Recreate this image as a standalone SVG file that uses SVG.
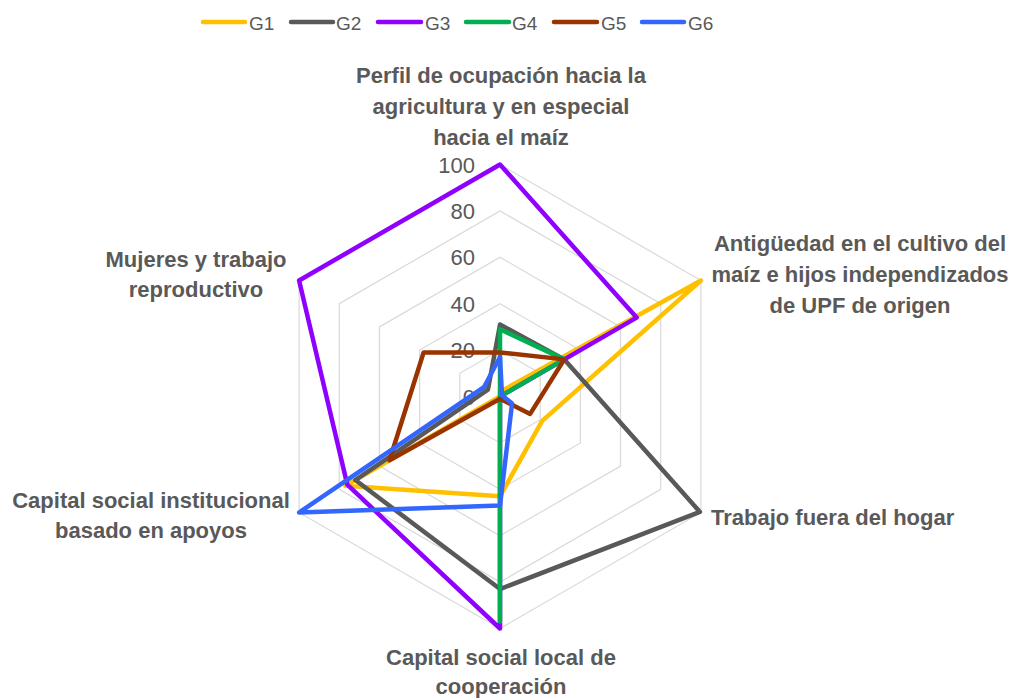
<svg xmlns="http://www.w3.org/2000/svg" width="1013" height="698" viewBox="0 0 1013 698">
<style>
.grid{fill:none;stroke:#D9D9D9;stroke-width:1.2}
.s{fill:none;stroke-width:4.5;stroke-linejoin:round;stroke-linecap:round}
.lg{stroke-width:4.5;stroke-linecap:round}
.tick{font-family:"Liberation Sans",Arial,sans-serif;font-size:22px;fill:#595959;text-anchor:end}
.leg{font-family:"Liberation Sans",Arial,sans-serif;font-size:19px;fill:#595959}
.lab{font-family:"Liberation Sans",Arial,sans-serif;font-size:22px;font-weight:bold;fill:#595959}
.c{text-anchor:middle}
</style>
<rect width="1013" height="698" fill="#FFFFFF"/>
<g id="grid">
<polygon class="grid" points="500,350.1 540.18,373.3 540.18,419.7 500,442.9 459.82,419.7 459.82,373.3"/>
<polygon class="grid" points="500,303.7 580.37,350.1 580.37,442.9 500,489.3 419.63,442.9 419.63,350.1"/>
<polygon class="grid" points="500,257.3 620.55,326.9 620.55,466.1 500,535.7 379.45,466.1 379.45,326.9"/>
<polygon class="grid" points="500,210.9 660.73,303.7 660.73,489.3 500,582.1 339.27,489.3 339.27,303.7"/>
<polygon class="grid" points="500,164.5 700.92,280.5 700.92,512.5 500,628.5 299.08,512.5 299.08,280.5"/>
</g>
<g id="ticks">
<text class="tick" x="475" y="404.5">0</text>
<text class="tick" x="475" y="358">20</text>
<text class="tick" x="475" y="311.7">40</text>
<text class="tick" x="475" y="265.3">60</text>
<text class="tick" x="475" y="219">80</text>
<text class="tick" x="475" y="172.5">100</text>
</g>
<g id="series">
<polygon id="G1" class="s" stroke="#FFC000" points="500,391.86 700.92,280.5 542.19,420.86 500,496.26 345.3,485.8 500,396.5"/>
<polygon id="G2" class="s" stroke="#595959" points="500,324.58 564.29,359.38 699.91,511.92 500,589.06 355.34,480.02 487.94,389.54"/>
<polygon id="G3" class="s" stroke="#8F00FF" points="500,164.5 636.62,317.62 500,396.5 500,628.5 347.3,484.66 299.08,280.5"/>
<polygon id="G4" class="s" stroke="#00B050" points="500,329.22 564.29,359.38 500,396.5 500,621.54 500,396.5 500,396.5"/>
<polygon id="G5" class="s" stroke="#993300" points="500,352.42 564.29,359.38 530.14,413.9 500,398.82 389.5,460.3 423.65,352.42"/>
<polygon id="G6" class="s" stroke="#3366FF" points="500,357.06 502.01,395.34 512.06,403.46 500,505.54 299.08,512.5 483.93,387.22"/>
</g>
<g id="legend">
<line class="lg" x1="203" y1="22" x2="245" y2="22" stroke="#FFC000"/>
<text class="leg" x="249" y="30">G1</text>
<line class="lg" x1="291" y1="22" x2="333" y2="22" stroke="#595959"/>
<text class="leg" x="336" y="30">G2</text>
<line class="lg" x1="378" y1="22" x2="421" y2="22" stroke="#8F00FF"/>
<text class="leg" x="425" y="30">G3</text>
<line class="lg" x1="466" y1="22" x2="509" y2="22" stroke="#00B050"/>
<text class="leg" x="512" y="30">G4</text>
<line class="lg" x1="554" y1="22" x2="597" y2="22" stroke="#993300"/>
<text class="leg" x="601" y="30">G5</text>
<line class="lg" x1="642" y1="22" x2="684" y2="22" stroke="#3366FF"/>
<text class="leg" x="688" y="30">G6</text>
</g>
<g id="label-top">
<text class="lab c" x="501" y="83">Perfil de ocupación hacia la</text>
<text class="lab c" x="501" y="114">agricultura y en especial</text>
<text class="lab c" x="501" y="145">hacia el maíz</text>
</g>
<g id="label-upper-right">
<text class="lab c" x="860" y="251">Antigüedad en el cultivo del</text>
<text class="lab c" x="860" y="282">maíz e hijos independizados</text>
<text class="lab c" x="860" y="313">de UPF de origen</text>
</g>
<g id="label-lower-right">
<text class="lab" x="711" y="525">Trabajo fuera del hogar</text>
</g>
<g id="label-bottom">
<text class="lab c" x="501" y="665">Capital social local de</text>
<text class="lab c" x="501" y="694">cooperación</text>
</g>
<g id="label-lower-left">
<text class="lab c" x="151" y="508">Capital social institucional</text>
<text class="lab c" x="151" y="538">basado en apoyos</text>
</g>
<g id="label-upper-left">
<text class="lab c" x="196" y="267">Mujeres y trabajo</text>
<text class="lab c" x="196" y="297">reproductivo</text>
</g>
</svg>
